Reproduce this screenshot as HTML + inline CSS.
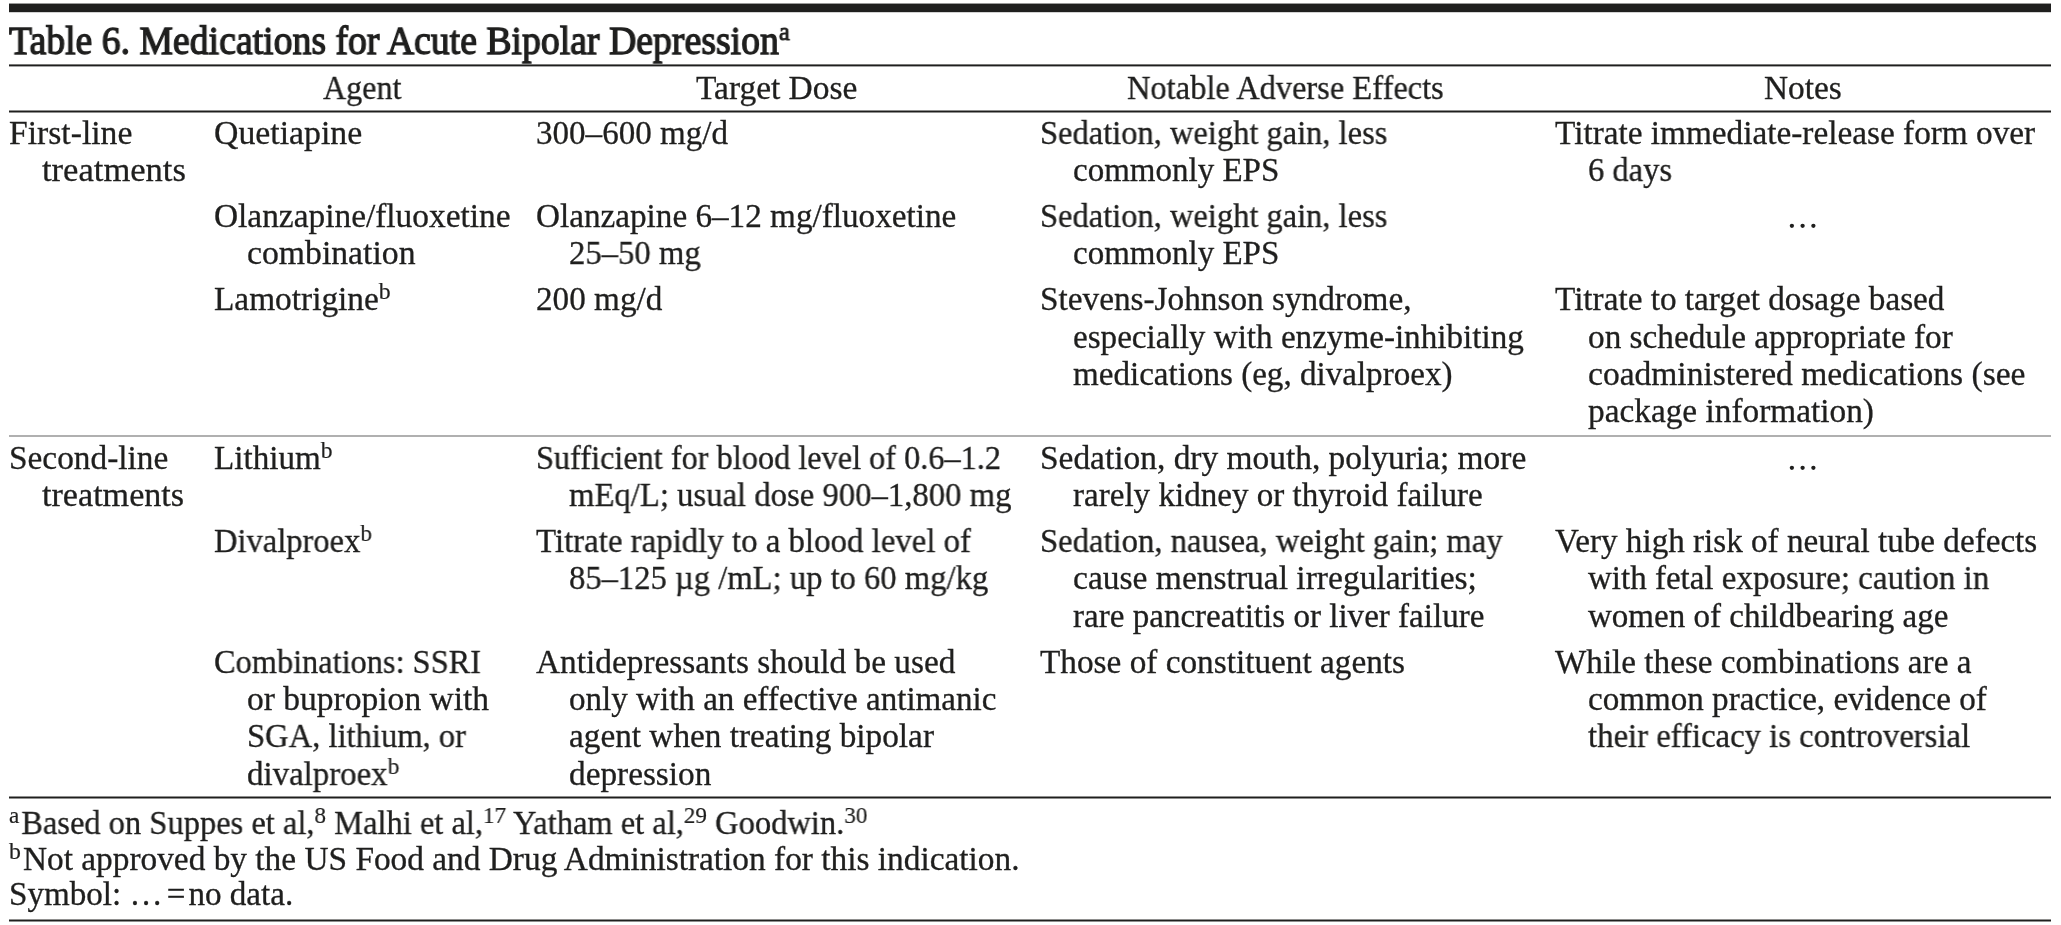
<!DOCTYPE html>
<html><head><meta charset="utf-8"><title>Table 6. Medications for Acute Bipolar Depression</title>
<style>
html,body{margin:0;padding:0;background:#fff;}
body{width:2061px;height:925px;position:relative;overflow:hidden;color:#1f1f1e;font-family:"Liberation Serif",serif;}
.r{position:absolute;background:#1f1f1e;}
.t,.f,.ti{will-change:transform;-webkit-text-stroke:0.3px #1f1f1e;position:absolute;white-space:nowrap;line-height:40px;font-size:33px;transform-origin:0 0;}
.ti{line-height:50px;font-size:40px;-webkit-text-stroke:1.3px #1f1f1e;}
sup{font-size:23.5px;vertical-align:baseline;position:relative;top:-11.5px;line-height:0;-webkit-text-stroke:0.2px #1f1f1e;}
sup.fn{margin-right:2px;}
.ti sup{font-size:26px;top:-14px;-webkit-text-stroke:0.9px #1f1f1e;}
.d{position:absolute;width:4.3px;height:4.3px;border-radius:50%;background:#1f1f1e;}
</style></head><body>

<div class="r" style="left:9px;top:3px;width:2042px;height:1px;background:#1f1f1e;opacity:0.45"></div>
<div class="r" style="left:9px;top:4px;width:2042px;height:1px;background:#1f1f1e;opacity:1"></div>
<div class="r" style="left:9px;top:5px;width:2042px;height:1px;background:#1f1f1e;opacity:1"></div>
<div class="r" style="left:9px;top:6px;width:2042px;height:1px;background:#1f1f1e;opacity:1"></div>
<div class="r" style="left:9px;top:7px;width:2042px;height:1px;background:#1f1f1e;opacity:1"></div>
<div class="r" style="left:9px;top:8px;width:2042px;height:1px;background:#1f1f1e;opacity:1"></div>
<div class="r" style="left:9px;top:9px;width:2042px;height:1px;background:#1f1f1e;opacity:1"></div>
<div class="r" style="left:9px;top:10px;width:2042px;height:1px;background:#1f1f1e;opacity:1"></div>
<div class="r" style="left:9px;top:11px;width:2042px;height:1px;background:#1f1f1e;opacity:1"></div>
<div class="r" style="left:9px;top:12px;width:2042px;height:1px;background:#1f1f1e;opacity:0.2"></div>
<div class="r" style="left:9px;top:64px;width:2042px;height:1px;background:#1f1f1e;opacity:0.6"></div>
<div class="r" style="left:9px;top:65px;width:2042px;height:1px;background:#1f1f1e;opacity:1"></div>
<div class="r" style="left:9px;top:66px;width:2042px;height:1px;background:#1f1f1e;opacity:0.4"></div>
<div class="r" style="left:9px;top:110px;width:2042px;height:1px;background:#1f1f1e;opacity:0.5"></div>
<div class="r" style="left:9px;top:111px;width:2042px;height:1px;background:#1f1f1e;opacity:1"></div>
<div class="r" style="left:9px;top:112px;width:2042px;height:1px;background:#1f1f1e;opacity:0.5"></div>
<div class="r" style="left:9px;top:435px;width:2042px;height:1px;background:#b0b0b0;opacity:1"></div>
<div class="r" style="left:9px;top:436px;width:2042px;height:1px;background:#b0b0b0;opacity:1"></div>
<div class="r" style="left:9px;top:796px;width:2042px;height:1px;background:#1f1f1e;opacity:0.5"></div>
<div class="r" style="left:9px;top:797px;width:2042px;height:1px;background:#1f1f1e;opacity:1"></div>
<div class="r" style="left:9px;top:798px;width:2042px;height:1px;background:#1f1f1e;opacity:0.5"></div>
<div class="r" style="left:9px;top:919px;width:2042px;height:1px;background:#1f1f1e;opacity:0.5"></div>
<div class="r" style="left:9px;top:920px;width:2042px;height:1px;background:#1f1f1e;opacity:1"></div>
<div class="r" style="left:9px;top:921px;width:2042px;height:1px;background:#1f1f1e;opacity:0.5"></div>
<div id="l0" class="t" style="left:322.70px;top:67.86px;transform:scaleX(0.9728)">Agent</div>
<div id="l1" class="t" style="left:696.40px;top:67.86px;transform:scaleX(1.0127)">Target Dose</div>
<div id="l2" class="t" style="left:1126.80px;top:67.86px;transform:scaleX(0.9838)">Notable Adverse Effects</div>
<div id="l3" class="t" style="left:1764.00px;top:67.86px;transform:scaleX(1.0107)">Notes</div>
<div id="l4" class="t" style="left:9.00px;top:112.86px;transform:scaleX(1.0192)">First-line</div>
<div id="l5" class="t" style="left:42.00px;top:149.86px;transform:scaleX(1.0471)">treatments</div>
<div id="l6" class="t" style="left:213.50px;top:112.86px;transform:scaleX(1.0231)">Quetiapine</div>
<div id="l7" class="t" style="left:536.30px;top:112.86px;transform:scaleX(1.0021)">300–600 mg/d</div>
<div id="l8" class="t" style="left:1040.30px;top:112.86px;transform:scaleX(0.9844)">Sedation, weight gain, less</div>
<div id="l9" class="t" style="left:1073.30px;top:149.86px;transform:scaleX(0.9986)">commonly EPS</div>
<div id="l10" class="t" style="left:1555.00px;top:112.86px;transform:scaleX(1.0084)">Titrate immediate-release form over</div>
<div id="l11" class="t" style="left:1588.00px;top:149.86px;transform:scaleX(0.9847)">6 days</div>
<div id="l12" class="t" style="left:213.50px;top:195.86px;transform:scaleX(1.0113)">Olanzapine/fluoxetine</div>
<div id="l13" class="t" style="left:246.50px;top:232.86px;transform:scaleX(1.0213)">combination</div>
<div id="l14" class="t" style="left:536.30px;top:195.86px;transform:scaleX(1.0058)">Olanzapine 6–12 mg/fluoxetine</div>
<div id="l15" class="t" style="left:569.30px;top:232.86px;transform:scaleX(0.9903)">25–50 mg</div>
<div id="l16" class="t" style="left:1040.30px;top:195.86px;transform:scaleX(0.9844)">Sedation, weight gain, less</div>
<div id="l17" class="t" style="left:1073.30px;top:232.86px;transform:scaleX(0.9986)">commonly EPS</div>
<div id="l18" class="t" style="left:213.50px;top:278.86px;transform:scaleX(1.0103)">Lamotrigine<sup>b</sup></div>
<div id="l19" class="t" style="left:536.30px;top:278.86px;transform:scaleX(1.0057)">200 mg/d</div>
<div id="l20" class="t" style="left:1040.30px;top:278.86px;transform:scaleX(1.0082)">Stevens-Johnson syndrome,</div>
<div id="l21" class="t" style="left:1073.30px;top:316.86px;transform:scaleX(1.0038)">especially with enzyme-inhibiting</div>
<div id="l22" class="t" style="left:1073.30px;top:353.86px;transform:scaleX(1.0027)">medications (eg, divalproex)</div>
<div id="l23" class="t" style="left:1555.00px;top:278.86px;transform:scaleX(1.0070)">Titrate to target dosage based</div>
<div id="l24" class="t" style="left:1588.00px;top:316.86px;transform:scaleX(1.0080)">on schedule appropriate for</div>
<div id="l25" class="t" style="left:1588.00px;top:353.86px;transform:scaleX(1.0158)">coadministered medications (see</div>
<div id="l26" class="t" style="left:1588.00px;top:390.86px;transform:scaleX(1.0099)">package information)</div>
<div id="l27" class="t" style="left:9.00px;top:437.86px;transform:scaleX(1.0102)">Second-line</div>
<div id="l28" class="t" style="left:42.00px;top:474.86px;transform:scaleX(1.0339)">treatments</div>
<div id="l29" class="t" style="left:213.50px;top:437.86px;transform:scaleX(1.0043)">Lithium<sup>b</sup></div>
<div id="l30" class="t" style="left:536.30px;top:437.86px;transform:scaleX(0.9789)">Sufficient for blood level of 0.6–1.2</div>
<div id="l31" class="t" style="left:569.30px;top:474.86px;transform:scaleX(0.9910)">mEq/L; usual dose 900–1,800 mg</div>
<div id="l32" class="t" style="left:1040.30px;top:437.86px;transform:scaleX(1.0125)">Sedation, dry mouth, polyuria; more</div>
<div id="l33" class="t" style="left:1073.30px;top:474.86px;transform:scaleX(1.0025)">rarely kidney or thyroid failure</div>
<div id="l34" class="t" style="left:213.50px;top:520.86px;transform:scaleX(0.9856)">Divalproex<sup>b</sup></div>
<div id="l35" class="t" style="left:536.30px;top:520.86px;transform:scaleX(0.9959)">Titrate rapidly to a blood level of</div>
<div id="l36" class="t" style="left:569.30px;top:557.86px;transform:scaleX(0.9882)">85–125 µg /mL; up to 60 mg/kg</div>
<div id="l37" class="t" style="left:1040.30px;top:520.86px;transform:scaleX(0.9897)">Sedation, nausea, weight gain; may</div>
<div id="l38" class="t" style="left:1073.30px;top:557.86px;transform:scaleX(1.0157)">cause menstrual irregularities;</div>
<div id="l39" class="t" style="left:1073.30px;top:595.86px;transform:scaleX(1.0024)">rare pancreatitis or liver failure</div>
<div id="l40" class="t" style="left:1555.00px;top:520.86px;transform:scaleX(1.0042)">Very high risk of neural tube defects</div>
<div id="l41" class="t" style="left:1588.00px;top:557.86px;transform:scaleX(0.9995)">with fetal exposure; caution in</div>
<div id="l42" class="t" style="left:1588.00px;top:595.86px;transform:scaleX(1.0006)">women of childbearing age</div>
<div id="l43" class="t" style="left:213.50px;top:641.86px;transform:scaleX(0.9805)">Combinations: SSRI</div>
<div id="l44" class="t" style="left:246.50px;top:678.86px;transform:scaleX(1.0160)">or bupropion with</div>
<div id="l45" class="t" style="left:246.50px;top:715.86px;transform:scaleX(0.9874)">SGA, lithium, or</div>
<div id="l46" class="t" style="left:246.50px;top:753.86px;transform:scaleX(0.9961)">divalproex<sup>b</sup></div>
<div id="l47" class="t" style="left:536.30px;top:641.86px;transform:scaleX(1.0101)">Antidepressants should be used</div>
<div id="l48" class="t" style="left:569.30px;top:678.86px;transform:scaleX(1.0024)">only with an effective antimanic</div>
<div id="l49" class="t" style="left:569.30px;top:715.86px;transform:scaleX(1.0083)">agent when treating bipolar</div>
<div id="l50" class="t" style="left:569.30px;top:753.86px;transform:scaleX(1.0086)">depression</div>
<div id="l51" class="t" style="left:1040.30px;top:641.86px;transform:scaleX(1.0083)">Those of constituent agents</div>
<div id="l52" class="t" style="left:1555.00px;top:641.86px;transform:scaleX(1.0053)">While these combinations are a</div>
<div id="l53" class="t" style="left:1588.00px;top:678.86px;transform:scaleX(1.0030)">common practice, evidence of</div>
<div id="l54" class="t" style="left:1588.00px;top:715.86px;transform:scaleX(0.9922)">their efficacy is controversial</div>
<div id="l55" class="f" style="left:9.00px;top:802.86px;transform:scaleX(0.9844)"><sup class="fn">a</sup>Based on Suppes et al,<sup>8</sup> Malhi et al,<sup>17</sup> Yatham et al,<sup>29</sup> Goodwin.<sup>30</sup></div>
<div id="l56" class="f" style="left:9.00px;top:838.86px;transform:scaleX(1.0105)"><sup class="fn">b</sup>Not approved by the US Food and Drug Administration for this indication.</div>
<div id="l57" class="f" style="left:9.00px;top:873.86px;transform:scaleX(1.0036)">Symbol: …<span style="display:inline-block;width:4px"></span>=<span style="display:inline-block;width:3px"></span>no data.</div>
<div id="title" class="ti" style="left:9.00px;top:15.50px;transform:scaleX(0.9435)">Table 6. Medications for Acute Bipolar Depression<sup>a</sup></div>
<svg style="position:absolute;left:1780px;top:207px" width="50" height="30" viewBox="1780 207 50 30"><circle cx="1791.9" cy="225.8" r="2.15" fill="#1f1f1e"/><circle cx="1802.6" cy="225.8" r="2.15" fill="#1f1f1e"/><circle cx="1813.4" cy="225.8" r="2.15" fill="#1f1f1e"/></svg>
<svg style="position:absolute;left:1780px;top:449px" width="50" height="30" viewBox="1780 449 50 30"><circle cx="1791.9" cy="467.8" r="2.15" fill="#1f1f1e"/><circle cx="1802.6" cy="467.8" r="2.15" fill="#1f1f1e"/><circle cx="1813.4" cy="467.8" r="2.15" fill="#1f1f1e"/></svg>
</body></html>
